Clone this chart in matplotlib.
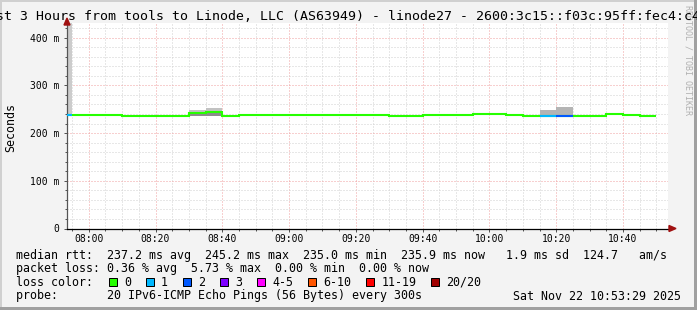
import matplotlib
matplotlib.use("Agg")
import matplotlib.pyplot as plt
import matplotlib.dates as mdates
from matplotlib.patches import Rectangle, Polygon
from matplotlib.ticker import FixedLocator, FuncFormatter
import numpy as np
import pandas as pd

W, H = 697, 310
plt.rcParams['font.family'] = ['DejaVu Sans Mono', 'DejaVu Sans']
plt.rcParams['lines.scale_dashes'] = False

# one value per 300 s step, the step ending at the time below
step_end = pd.date_range("2025-11-22 07:55", "2025-11-22 10:50", freq="5min")
median_ms = [238.0,
             237.6, 237.6, 237.6,
             235.5, 235.5, 235.5, 235.5,
             243.0, 245.2,
             235.5,
             237.6, 237.6, 237.6, 237.6, 237.6, 237.6, 237.6, 237.6, 237.6,
             235.5, 235.5,
             237.6, 237.6, 237.6,
             239.7, 239.7,
             237.6,
             235.5, 235.5, 235.0,
             235.5, 235.5,
             239.7,
             237.6,
             235.9]
lost = [1,
        0, 0, 0,
        0, 0, 0, 0,
        0, 0,
        0,
        0, 0, 0, 0, 0, 0, 0, 0, 0,
        0, 0,
        0, 0, 0,
        0, 0,
        0,
        0, 1, 2,
        0, 0,
        0,
        0,
        0]

# smoke (spread of the 20 pings) for the few steps where it shows
smoke_step = [0, 8, 9, 29, 30]
smoke_lo = [238.0, 237.0, 237.0, 235.5, 235.0]
smoke_hi = [900.0, 248.0, 252.0, 249.0, 254.0]
smoke_col = ['#cccccc', '#c2c2c2', '#c2c2c2', '#b4b4b4', '#b4b4b4']
core_step = [8, 9]
core_lo = [236.8, 236.8]
core_hi = [242.0, 244.0]

loss_labels = ['0', '1', '2', '3', '4-5', '6-10', '11-19', '20/20']
loss_colors = ['#26ff00', '#00b8ff', '#0059ff', '#7e00ff', '#ff00ff',
               '#ff5500', '#ff0000', '#a00000']
loss_counts = [0, 1, 2, 3, 5, 10, 19, 20]

title = ("Last 3 Hours from tools to Linode, LLC (AS63949) - linode27 - "
         "2600:3c15::f03c:95ff:fec4:c4b2")
row_rtt = ("median rtt:  237.2 ms avg  245.2 ms max  235.0 ms min  "
           "235.9 ms now   1.9 ms sd  124.7   am/s")
row_loss = "packet loss: 0.36 % avg  5.73 % max  0.00 % min  0.00 % now"
row_probe = "probe:       20 IPv6-ICMP Echo Pings (56 Bytes) every 300s"
stamp = "Sat Nov 22 10:53:29 2025"


def fx(x):
    return x / W


def fy(y):
    return 1 - y / H


def loss_color(n):
    for c, col in zip(loss_counts, loss_colors):
        if n <= c:
            return col
    return loss_colors[-1]


fig = plt.figure(figsize=(W / 100, H / 100), dpi=100, facecolor='#f3f3f3')
ax_l, ax_r, ax_b, ax_t = 67, 668, 228.5, 23.4
ax = fig.add_axes([fx(ax_l), fy(ax_b), fx(ax_r - ax_l), (ax_b - ax_t) / H])
ax.set_facecolor('white')

t0 = pd.Timestamp("2025-11-22 07:53:29")
t1 = pd.Timestamp("2025-11-22 10:53:29")
ax.set_xlim(t0, t1)
ax.set_ylim(0, 0.43)

step = pd.Timedelta("5min")
starts = step_end - step
med = np.array(median_ms) / 1000

# smoke
for i, lo, hi, col in zip(smoke_step, smoke_lo, smoke_hi, smoke_col):
    ax.bar(starts[i], (hi - lo) / 1000, bottom=lo / 1000, width=step,
           align='edge', color=col, lw=0, zorder=2)
for i, lo, hi in zip(core_step, core_lo, core_hi):
    ax.bar(starts[i], (hi - lo) / 1000, bottom=lo / 1000, width=step,
           align='edge', color='#8c8c8c', lw=0, zorder=2)

# median line, coloured by packet loss
edges = list(starts) + [step_end[-1]]
ax.stairs(med, mdates.date2num(edges), baseline=None, color=loss_colors[0],
          lw=1.5, zorder=3)
for i, n in enumerate(lost):
    if n > 0:
        ax.hlines(med[i], starts[i], step_end[i], color=loss_color(n),
                  lw=1.5, zorder=4)

# grid
ax.xaxis.set_major_locator(mdates.MinuteLocator(byminute=[0, 20, 40]))
ax.xaxis.set_minor_locator(mdates.MinuteLocator(byminute=range(0, 60, 5)))
ax.xaxis.set_major_formatter(mdates.DateFormatter('%H:%M'))
ax.yaxis.set_major_locator(FixedLocator([0, 0.1, 0.2, 0.3, 0.4]))
ax.yaxis.set_minor_locator(FixedLocator(np.arange(0.02, 0.43, 0.02)))
ax.yaxis.set_major_formatter(FuncFormatter(
    lambda v, p: "0" if v == 0 else f"{v * 1000:.0f} m"))
ax.grid(which='minor', color='#d0d0d0', lw=0.72, ls=(0, (0.72, 1.44)),
        zorder=1)
ax.grid(which='major', color='#f0a0a0', lw=0.72, ls=(0, (0.72, 1.44)),
        zorder=1)
ax.set_axisbelow(True)

ax.tick_params(which='both', direction='out', colors='#555555',
               labelcolor='black', labelsize=7, width=0.72)
ax.tick_params(which='major', length=2.5)
ax.tick_params(which='minor', length=1.5)
ax.tick_params(axis='x', pad=1.2)
ax.tick_params(axis='y', pad=3)
for s in ['top', 'right']:
    ax.spines[s].set_visible(False)
ax.spines['left'].set_color('#555555')
ax.spines['left'].set_linewidth(0.9)
ax.spines['bottom'].set_color('black')
ax.spines['bottom'].set_linewidth(0.9)

# axis arrows
fig.add_artist(Polygon([(fx(67), fy(18)), (fx(64), fy(25)), (fx(70), fy(25))],
                       closed=True, color='#a01010', transform=fig.transFigure))
fig.add_artist(Polygon([(fx(676), fy(228.5)), (fx(669), fy(225.5)),
                        (fx(669), fy(231.5))],
                       closed=True, color='#a01010', transform=fig.transFigure))

# texts
fig.text(fx(688), fy(5), "RRDTOOL / TOBI OETIKER", rotation=270,
         ha='center', va='top', fontsize=6, color='#b0b0b0')
fig.text(fx(348.5), fy(17), title, ha='center', va='center', fontsize=9.5)
fig.text(fx(10.5), fy(127), "Seconds", rotation=90, ha='center',
         va='center', fontsize=8.4)

fs = 8.4
fig.text(fx(16), fy(255), row_rtt, ha='left', va='center', fontsize=fs)
fig.text(fx(16), fy(268.3), row_loss, ha='left', va='center', fontsize=fs)
fig.text(fx(16), fy(282.3), "loss color:", ha='left', va='center', fontsize=fs)
fig.text(fx(16), fy(296), row_probe, ha='left', va='center', fontsize=fs)
fig.text(fx(681), fy(296), stamp, ha='right', va='center', fontsize=fs)

bx = 108.7
for lab, col in zip(loss_labels, loss_colors):
    fig.add_artist(Rectangle((fx(bx), fy(286.3)), fx(8), 8 / H, facecolor=col,
                             edgecolor='black', lw=0.72,
                             transform=fig.transFigure))
    fig.text(fx(bx + 15.4), fy(282.3), lab, ha='left', va='center',
             fontsize=fs)
    bx += 30 + len(lab) * 7.02

# frame of the canvas
fig.add_artist(Rectangle((0, fy(2)), 1, 2 / H, color='#d0d0d0', lw=0,
                         transform=fig.transFigure))
fig.add_artist(Rectangle((0, 0), fx(2), 1, color='#d0d0d0', lw=0,
                         transform=fig.transFigure))
fig.add_artist(Rectangle((fx(694), 0), fx(3), 1, color='#a0a0a0', lw=0,
                         transform=fig.transFigure))
fig.add_artist(Rectangle((0, 0), 1, 3 / H, color='#a0a0a0', lw=0,
                         transform=fig.transFigure))

fig.savefig("out.png", dpi=100, facecolor=fig.get_facecolor())
